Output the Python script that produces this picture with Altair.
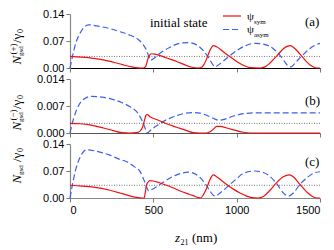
import altair as alt
import pandas as pd

# ---------------- data ----------------
# panel (a): N_gsd^(+)
a_sym_z = [0, 70, 140, 200, 260, 320, 370, 410, 440, 455, 465, 475, 490, 510, 540, 580, 640, 690, 730, 770,
           790, 805, 820, 840, 860, 880, 920, 960, 1000, 1040, 1080, 1140, 1170, 1200, 1240, 1280, 1320, 1340,
           1380, 1420, 1450, 1480, 1500]
a_sym_v = [0.030, 0.028, 0.025, 0.021, 0.015, 0.008, 0.003, 0.0005, 0.0, 0.005, 0.020, 0.032, 0.037, 0.036,
           0.032, 0.026, 0.017, 0.008, 0.002, 0.0,
           0.002, 0.010, 0.024, 0.046, 0.058, 0.055, 0.042, 0.029, 0.017, 0.007, 0.001, 0.0, 0.003, 0.013,
           0.031, 0.050, 0.058, 0.054, 0.036, 0.016, 0.005, 0.0, 0.0]
a_asym_z = [0, 15, 35, 60, 85, 110, 160, 240, 300, 360, 410, 440, 460, 475, 485, 500, 540, 600, 650, 710, 760,
            800, 830, 855, 870, 890, 920, 960, 1010, 1060, 1110, 1160, 1220, 1260, 1290, 1310, 1325, 1345, 1370,
            1400, 1450, 1500]
a_asym_v = [0.0, 0.030, 0.065, 0.090, 0.106, 0.112, 0.109, 0.102, 0.094, 0.085, 0.074, 0.060, 0.045, 0.028,
            0.020, 0.024, 0.038, 0.054, 0.063, 0.066, 0.060, 0.045, 0.028, 0.010, 0.003, 0.008, 0.018, 0.032,
            0.048, 0.059, 0.064, 0.062, 0.050, 0.033, 0.015, 0.005, 0.003, 0.010, 0.022, 0.035, 0.054, 0.064]
a_init = 0.030

# panel (b): N_gsd^(-)
b_sym_z = [0, 60, 120, 200, 260, 310, 360, 400, 420, 435, 445, 455, 462, 480, 520, 580, 640, 700, 740, 780,
           820, 840, 860, 880, 900, 940, 1000, 1040, 1080, 1500]
b_sym_v = [0.0025, 0.0024, 0.0021, 0.0013, 0.0006, 0.0001, 0.0, 0.0001, 0.0005, 0.0015, 0.0030, 0.0045, 0.0048,
           0.0042, 0.0035, 0.0024, 0.0015, 0.0006, 0.0001, 0.0, 0.0, 0.0003, 0.0010, 0.0017, 0.0017, 0.0013,
           0.0006, 0.0002, 0.0, 0.0]
b_asym_z = [0, 20, 45, 80, 130, 190, 250, 310, 360, 410, 440, 458, 465, 480, 510, 560, 620, 680, 740, 800, 840,
            870, 895, 930, 980, 1040, 1100, 1200, 1500]
b_asym_v = [0.0, 0.0035, 0.0065, 0.0087, 0.0095, 0.0093, 0.0088, 0.0079, 0.0068, 0.0050, 0.0025, 0.0005, 0.0,
            0.0006, 0.0016, 0.0030, 0.0042, 0.0050, 0.0053, 0.0049, 0.0042, 0.0036, 0.0033, 0.0036, 0.0044,
            0.0050, 0.0052, 0.0052, 0.0052]
b_init = 0.0025

# panel (c): N_gsd
c_sym_z = [0, 70, 140, 240, 300, 340, 380, 420, 445, 452, 460, 470, 480, 500, 540, 600, 640, 700, 740, 770, 785,
           800, 820, 840, 860, 880, 940, 980, 1020, 1060, 1090, 1130, 1160, 1200, 1240, 1280, 1316, 1340, 1380,
           1420, 1450, 1480, 1500]
c_sym_v = [0.033, 0.031, 0.028, 0.020, 0.013, 0.008, 0.003, 0.0005, 0.0, 0.015, 0.035, 0.042, 0.045, 0.044,
           0.039, 0.030, 0.022, 0.012, 0.006, 0.001, 0.0, 0.008, 0.025, 0.048, 0.060, 0.055, 0.035, 0.023,
           0.013, 0.005, 0.001, 0.0, 0.004, 0.020, 0.040, 0.055, 0.060, 0.055, 0.035, 0.016, 0.005, 0.0, 0.0]
c_asym_z = [0, 15, 35, 60, 85, 100, 150, 240, 300, 340, 390, 420, 445, 460, 472, 490, 540, 600, 640, 710, 770,
            810, 840, 860, 872, 900, 960, 1000, 1040, 1110, 1160, 1200, 1240, 1280, 1300, 1312, 1340, 1380, 1420,
            1460, 1500]
c_asym_v = [0.0, 0.035, 0.075, 0.105, 0.122, 0.125, 0.122, 0.111, 0.100, 0.094, 0.080, 0.069, 0.045, 0.028,
            0.019, 0.022, 0.035, 0.052, 0.060, 0.067, 0.057, 0.038, 0.018, 0.007, 0.005, 0.013, 0.035, 0.050,
            0.064, 0.070, 0.066, 0.056, 0.037, 0.013, 0.006, 0.005, 0.013, 0.035, 0.052, 0.064, 0.068]
c_init = 0.033

x_ticks = [0, 500, 1000, 1500]
a_ticks = [0, 0.07, 0.14]
b_ticks = [0, 0.007, 0.014]
c_ticks = [0, 0.07, 0.14]

RED = "#f01010"
BLUE = "#3a5ef0"
SERIF = "Liberation Serif"
SANS = "Liberation Sans"
W, H = 250, 54
TX = 3  # shift of the y-title pieces


def txt(s, x, y, size, style="normal", angle=0, align="left", font=SERIF):
    return alt.Chart(pd.DataFrame({"t": [s]})).mark_text(
        font=font, fontSize=size, fontStyle=style, angle=angle, align=align,
        baseline="alphabetic", color="black"
    ).encode(x=alt.value(x), y=alt.value(y), text="t:N")


def panel(sym_z, sym_v, asym_z, asym_v, init, yticks, yfmt, ydom_max, show_x, xdomain_color, extra):
    xenc = alt.X("z:Q", scale=alt.Scale(domain=[0, 1500], nice=False),
                 axis=alt.Axis(values=x_ticks, labels=show_x, title=None, format="d",
                               domainColor=xdomain_color, tickColor="#777"))
    yscale = alt.Scale(domain=[0, ydom_max], nice=False)
    yaxis = alt.Axis(values=yticks, format=yfmt, title=None)
    sym = alt.Chart(pd.DataFrame({"z": sym_z, "v": sym_v})).mark_line(
        color=RED, strokeWidth=1.2, interpolate="monotone").encode(x=xenc, y=alt.Y("v:Q", scale=yscale, axis=yaxis))
    asym = alt.Chart(pd.DataFrame({"z": asym_z, "v": asym_v})).mark_line(
        color=BLUE, strokeWidth=1.2, strokeDash=[6, 3], interpolate="monotone").encode(x=xenc, y=alt.Y("v:Q", scale=yscale, axis=yaxis))
    dot = alt.Chart(pd.DataFrame({"v": [init]})).mark_rule(
        color="#555", strokeWidth=0.8, strokeDash=[1, 1.5]).encode(y=alt.Y("v:Q", scale=yscale, axis=yaxis))
    return alt.layer(dot, asym, sym, *extra).properties(width=W, height=H)


def ytitle(sup, dy):
    parts = [txt("N", -52 + TX, 50.5 + dy, 13, "italic", 270)]
    if sup:
        parts.append(txt(sup, -57.5 + TX, 40.5 + dy, 9, "normal", 270))
    parts.append(txt("gsd", -50.5 + TX, 42 + dy, 7, "normal", 270))
    parts.append(txt("/γ", -52 + TX, 29 + dy, 13, "normal", 270))
    parts.append(txt("0", -50 + TX, 19 + dy, 8, "normal", 270))
    return parts


def legend_line(color, y, dash=None):
    kw = dict(stroke=color, color=color, strokeWidth=1.2)
    if dash:
        kw["strokeDash"] = dash
    return alt.Chart(pd.DataFrame({"a": [0]})).mark_rule(**kw).encode(
        x=alt.value(153), x2=alt.value(171), y=alt.value(y))


extra_a = ytitle("(+)", 0) + [
    txt("initial state", 80, 13, 13),
    legend_line(RED, 2),
    legend_line(BLUE, 15.5, [6, 3]),
    txt("ψ", 177, 6, 11), txt("sym", 184, 9.5, 7),
    txt("ψ", 177, 19, 11), txt("asym", 184, 22.5, 7),
    txt("(a)", 235, 12, 13),
]
extra_b = ytitle("(−)", 1) + [txt("(b)", 235, 26, 13)]
extra_c = ytitle(None, -11) + [txt("(c)", 235, 22, 13)]

pa = panel(a_sym_z, a_sym_v, a_asym_z, a_asym_v, a_init, a_ticks, ".2f", 0.14, False, "#000", extra_a)
pb = panel(b_sym_z, b_sym_v, b_asym_z, b_asym_v, b_init, b_ticks, ".3f", 0.014, False, "#555", extra_b)
extra_c += [txt("z", 105, H + 44, 13, "italic"), txt("21", 110.5, H + 47, 8), txt("(nm)", 122, H + 44, 13)]
pc = panel(c_sym_z, c_sym_v, c_asym_z, c_asym_v, c_init, c_ticks, ".2f", 0.14, True, "#888", extra_c)

chart = alt.vconcat(pa, pb, pc, spacing=11, bounds="flush").properties(padding=0).configure_view(
    stroke=None).configure_axis(
    grid=False, domainColor="#888", tickColor="#777", tickSize=4, labelFont=SANS, labelFontSize=11,
    labelColor="black", labelPadding=2, domainWidth=1.2
)

chart.save("out.html", embed_options={"renderer": "svg", "actions": False})
